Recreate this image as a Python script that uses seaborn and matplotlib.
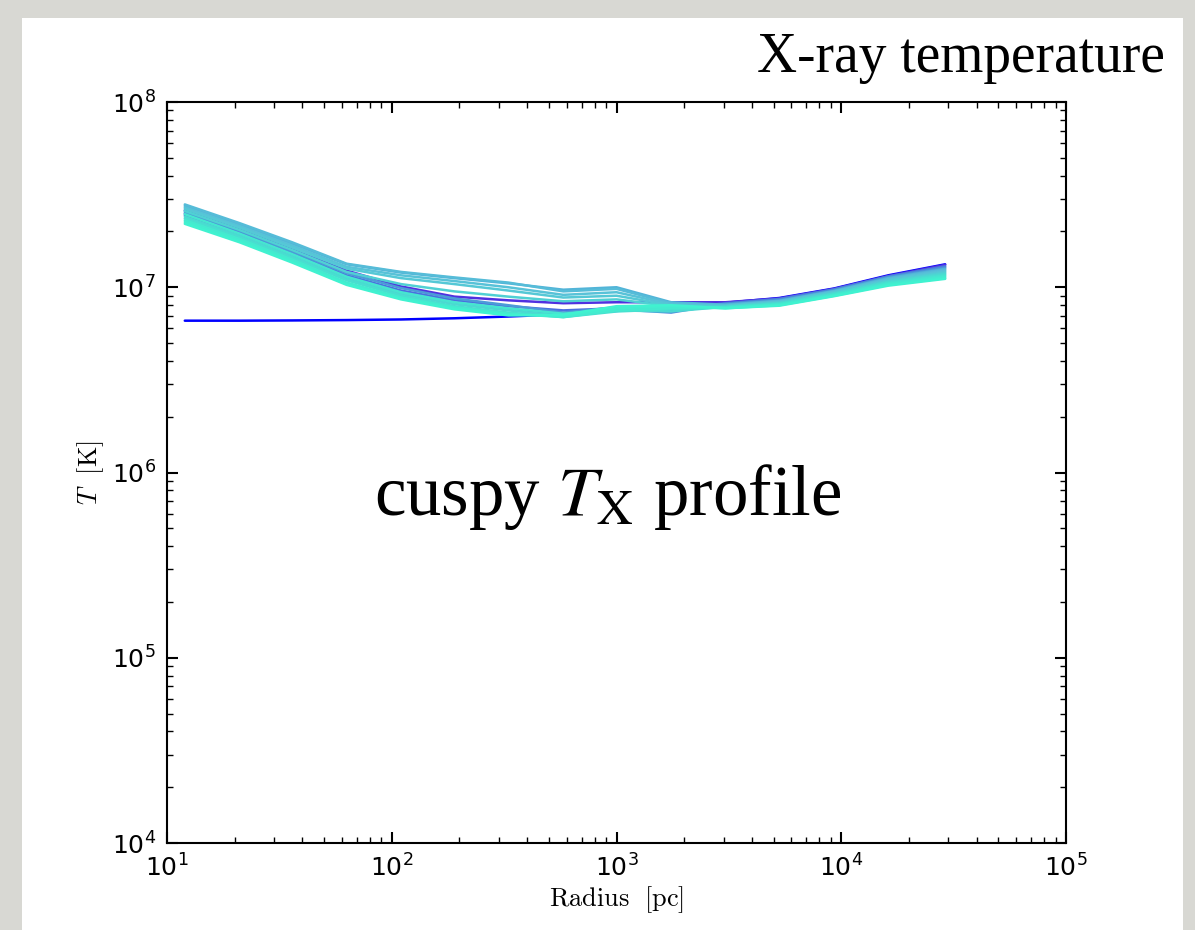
import matplotlib
matplotlib.use("Agg")
import matplotlib.pyplot as plt
from matplotlib.patches import Rectangle
import numpy as np
import pandas as pd
import seaborn as sns

# radius bins [pc]
radius = [12, 21, 36, 63, 110, 190, 330, 580, 1000, 1750, 3050, 5300, 9300, 16200, 29000]

# temperature profiles in units of 10^6 K (one list per snapshot)
s00 = [6.60, 6.60, 6.62, 6.65, 6.70, 6.80, 6.95, 7.15, 7.45, 7.85, 8.25, 8.75, 9.85, 11.6, 13.3]
s01 = [26.0, 20.5, 16.0, 12.3, 10.1, 8.9, 8.5, 8.2, 8.3, 8.3, 8.3, 8.7, 9.8, 11.5, 13.2]
s02 = [25.0, 19.8, 15.3, 11.6, 9.6, 8.5, 7.9, 7.5, 7.7, 7.6, 8.2, 8.65, 9.75, 11.45, 13.0]
s03 = [24.5, 19.3, 14.9, 11.3, 9.3, 8.2, 7.6, 7.1, 7.6, 7.3, 8.15, 8.6, 9.7, 11.4, 12.85]
s04 = [25.5, 20.2, 15.6, 11.9, 9.9, 8.7, 8.0, 7.3, 7.8, 7.5, 8.1, 8.5, 9.6, 11.3, 12.7]
s05 = [27.5, 21.8, 17.2, 13.3, 12.0, 11.2, 10.5, 9.7, 10.0, 8.3, 8.05, 8.45, 9.55, 11.2, 12.55]
s06 = [28.0, 22.2, 17.5, 13.4, 12.1, 11.3, 10.6, 9.5, 9.8, 8.2, 8.0, 8.4, 9.5, 11.1, 12.4]
s07 = [27.0, 21.4, 16.8, 12.9, 11.6, 10.8, 10.0, 9.1, 9.4, 8.1, 7.95, 8.35, 9.45, 11.0, 12.25]
s08 = [26.5, 21.0, 16.4, 12.6, 11.2, 10.4, 9.6, 8.8, 9.0, 8.0, 7.9, 8.3, 9.4, 10.9, 12.1]
s09 = [25.8, 20.4, 15.9, 12.1, 10.4, 9.5, 8.9, 8.4, 8.6, 7.9, 7.9, 8.25, 9.3, 10.8, 11.95]
s10 = [24.0, 19.0, 14.7, 11.1, 9.2, 8.1, 7.5, 7.0, 7.5, 7.4, 7.85, 8.2, 9.25, 10.7, 11.8]
s11 = [23.5, 18.6, 14.4, 10.9, 9.0, 7.9, 7.3, 6.9, 7.4, 7.6, 7.8, 8.15, 9.2, 10.6, 11.65]
s12 = [24.8, 19.5, 15.1, 11.4, 9.4, 8.3, 7.7, 7.2, 7.6, 7.8, 7.8, 8.1, 9.1, 10.5, 11.5]
s13 = [23.0, 18.2, 14.1, 10.6, 8.8, 7.8, 7.2, 6.9, 7.5, 7.7, 7.75, 8.05, 9.05, 10.4, 11.35]
s14 = [22.5, 17.8, 13.8, 10.4, 8.7, 7.7, 7.1, 7.0, 7.7, 7.9, 7.7, 8.0, 9.0, 10.3, 11.2]
s15 = [22.0, 17.5, 13.6, 10.3, 8.6, 7.6, 7.05, 7.1, 7.9, 8.0, 7.7, 7.95, 8.95, 10.2, 11.1]

profiles = [s00, s01, s02, s03, s04, s05, s06, s07, s08, s09, s10, s11, s12, s13, s14, s15]

# line colours, one per snapshot (blue -> violet -> cornflower -> cyan -> aquamarine)
line_colors = ["#0000ff", "#5030e0", "#4a6ee0", "#4a86dc", "#4c9ad8", "#52b4d8",
               "#56bcd8", "#58c2d8", "#55c8d6", "#50d0d4", "#4cd8d2", "#48dfd0",
               "#46e5d0", "#44eacf", "#42eecf", "#40f2d0"]

title_text = "X-ray temperature"
note_text = r"cuspy $T_{\rm X}$ profile"
xlabel_text = r"$\mathrm{Radius}\ \ [\mathrm{pc}]$"
ylabel_text = r"$T\ \ [\mathrm{K}]$"

rows = []
for i, prof in enumerate(profiles):
    for r, t in zip(radius, prof):
        rows.append({"snap": f"s{i:02d}", "R": r, "T": t * 1e6})
df = pd.DataFrame(rows)

sns.set_style("white")
plt.rcParams["font.family"] = ["DejaVu Sans"]
plt.rcParams["text.color"] = "black"
plt.rcParams["axes.labelcolor"] = "black"

fig = plt.figure(figsize=(11.95, 9.30), dpi=100)
fig.patch.set_facecolor("#d8d8d3")
fig.patches.append(Rectangle((22 / 1195, 0), (1183 - 22) / 1195, 1 - 18 / 930,
                             transform=fig.transFigure, facecolor="white",
                             edgecolor="none", zorder=-10))

ax = fig.add_axes([167 / 1195, 1 - 843 / 930, (1066 - 167) / 1195, (843 - 102) / 930])
ax.set_facecolor("white")

sns.lineplot(data=df, x="R", y="T", hue="snap", palette=line_colors, legend=False,
             estimator=None, sort=False, linewidth=1.8, ax=ax)

ax.set_xscale("log")
ax.set_yscale("log")
ax.set_xlim(1e1, 1e5)
ax.set_ylim(1e4, 1e8)

for sp in ax.spines.values():
    sp.set_linewidth(1.5)
    sp.set_color("black")

ax.tick_params(which="both", direction="in", top=True, right=True, left=True,
               bottom=True, colors="black")
ax.tick_params(which="major", length=8, width=1.5, labelsize=18, pad=8)
ax.tick_params(which="minor", length=4, width=1.0)

ax.set_xlabel(xlabel_text, fontsize=19, math_fontfamily="cm", labelpad=2)
ax.set_ylabel(ylabel_text, fontsize=19, math_fontfamily="cm", labelpad=4)

ax.text((608 - 167) / 899, (843 - 497) / 741, note_text, transform=ax.transAxes,
        ha="center", va="center", fontsize=51, family=["Liberation Serif"],
        math_fontfamily="stix", color="black")

fig.text(1165 / 1195, 1 - 58 / 930, title_text, ha="right", va="center",
         fontsize=40, family=["Liberation Serif"], color="black")

fig.savefig("out.png", dpi=100, facecolor=fig.get_facecolor())
